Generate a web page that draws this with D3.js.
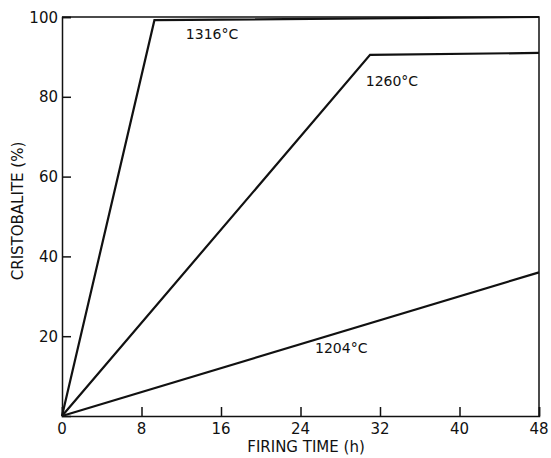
<!DOCTYPE html>
<html>
<head>
<meta charset="utf-8">
<script src="https://cdn.jsdelivr.net/npm/d3@7"></script>
<style>
  body { margin: 0; background: #fff; }
  svg text { font-family: "DejaVu Sans", sans-serif; fill: #111; }
</style>
</head>
<body>
<svg id="chart" width="551" height="458"></svg>
<script>
// data: firing time (h) vs cristobalite (%)
var xTicks = [0, 8, 16, 24, 32, 40, 48];
var yTicks = [20, 40, 60, 80, 100];
var curve1316 = [[0, 0], [9.3, 99.2], [48, 100]];
var curve1260 = [[0, 0], [31, 90.5], [48, 91]];
var curve1204 = [[0, 0], [48, 36]];
var labels = [
  { text: "1316°C", t: 15.1, v: 94.6 },
  { text: "1260°C", t: 33.2, v: 82.6 },
  { text: "1204°C", t: 28.1, v: 15.9 }
];

var svg = d3.select("#chart");
var x = d3.scaleLinear().domain([0, 48]).range([62, 539]);
var y = d3.scaleLinear().domain([0, 100]).range([416, 17]);

// frame (top and right sides)
svg.append("path")
  .attr("d", "M" + x(0) + "," + y(100) + "H" + x(48) + "V" + y(0))
  .attr("fill", "none").attr("stroke", "#111").attr("stroke-width", 1.5);

// axes, ticks pointing inward
var xAxis = svg.append("g")
  .attr("transform", "translate(0," + y(0) + ")")
  .call(d3.axisTop(x).tickValues(xTicks).tickSize(9).tickFormat(""));
var yAxis = svg.append("g")
  .attr("transform", "translate(" + x(0) + ",0)")
  .call(d3.axisRight(y).tickValues(yTicks).tickSize(9).tickFormat(""));
[xAxis, yAxis].forEach(function (g) {
  g.select(".domain").attr("stroke", "#111").attr("stroke-width", 1.5);
  g.selectAll(".tick line").attr("stroke", "#111").attr("stroke-width", 1.5);
});

// tick labels
svg.selectAll(".xlab").data(xTicks).enter().append("text")
  .attr("x", function (d) { return x(d); })
  .attr("y", y(0) + 18)
  .attr("text-anchor", "middle")
  .attr("font-size", 15)
  .text(function (d) { return d; });
svg.selectAll(".ylab").data(yTicks).enter().append("text")
  .attr("x", x(0) - 4)
  .attr("y", function (d) { return y(d) + 5.5; })
  .attr("text-anchor", "end")
  .attr("font-size", 15)
  .text(function (d) { return d; });

// axis titles
svg.append("text")
  .attr("x", 306).attr("y", 452)
  .attr("text-anchor", "middle").attr("font-size", 15)
  .text("FIRING TIME (h)");
svg.append("text")
  .attr("transform", "translate(23,211) rotate(-90)")
  .attr("text-anchor", "middle").attr("font-size", 15)
  .text("CRISTOBALITE (%)");

// curves
var line = d3.line()
  .x(function (d) { return x(d[0]); })
  .y(function (d) { return y(d[1]); });
[curve1316, curve1260, curve1204].forEach(function (c) {
  svg.append("path")
    .datum(c)
    .attr("d", line)
    .attr("fill", "none")
    .attr("stroke", "#111")
    .attr("stroke-width", 2.2)
    .attr("stroke-linejoin", "miter");
});

svg.selectAll(".clab").data(labels).enter().append("text")
  .attr("x", function (d) { return x(d.t); })
  .attr("y", function (d) { return y(d.v); })
  .attr("text-anchor", "middle")
  .attr("font-size", 14)
  .text(function (d) { return d.text; });
</script>
</body>
</html>
